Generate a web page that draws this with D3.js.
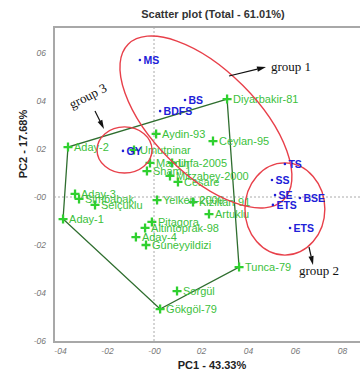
<!DOCTYPE html>
<html>
<head>
<meta charset="utf-8">
<script src="https://cdn.jsdelivr.net/npm/d3@7"></script>
<style>
  body { margin: 0; background: #fff; }
  svg { display: block; font-family: Arial, "Liberation Sans", sans-serif; }
</style>
</head>
<body>
<script>
// genotypes (green +)
const genoNames = ["Aday-2", "Diyarbakir-81", "Ceylan-95", "Aydin-93", "Umutpinar", "Mardin",
  "Urfa-2005", "Sham-1", "Mirzabey-2000", "Cesare", "Yelken-2000", "Kiziltan-91", "Artuklu",
  "Pitagora", "Altintoprak-98", "Aday-4", "Guneyyildizi", "Sorgül", "Gökgöl-79", "Tunca-79",
  "Aday-3", "Simbabak", "Selçuklu", "Aday-1"];
const genoPC1 = [-0.366, 0.311, 0.251, 0.009, -0.085, -0.017, 0.077, -0.030, 0.068, 0.102,
  0.013, 0.166, 0.234, -0.009, -0.038, -0.077, -0.034, 0.098, 0.026, 0.362,
  -0.336, -0.319, -0.251, -0.387];
const genoPC2 = [0.208, 0.408, 0.233, 0.263, 0.196, 0.142, 0.142, 0.108, 0.088, 0.063,
  -0.013, -0.021, -0.071, -0.104, -0.129, -0.167, -0.200, -0.392, -0.467, -0.292,
  0.013, -0.008, -0.033, -0.092];

// traits (blue dots)
const traitNames = ["MS", "BS", "BDFS", "GY", "TS", "SS", "SE", "BSE", "ETS", "ETS"];
const traitPC1 = [-0.060, 0.132, 0.026, -0.132, 0.557, 0.502, 0.515, 0.621, 0.506, 0.579];
const traitPC2 = [0.571, 0.404, 0.358, 0.192, 0.1375, 0.071, 0.008, -0.004, -0.033, -0.129];

const xTicks = [-0.4, -0.2, 0, 0.2, 0.4, 0.6, 0.8];
const yTicks = [-0.6, -0.4, -0.2, 0, 0.2, 0.4, 0.6];

// group ellipses in data units (center, radii, rotation in degrees)
const groupNames = ["group 1", "group 2", "group 3"];
const groupCx = [0.221, 0.557, -0.1255];
const groupCy = [0.3125, -0.05, 0.196];
const groupRx = [0.468, 0.170, 0.117];
const groupRy = [0.221, 0.192, 0.096];
const groupRot = [45, 0, 0];

const width = 360, height = 371;
const plotL = 54, plotT = 27, plotB = 342, plotR = 362;

const svg = d3.select("body").append("svg")
  .attr("width", width).attr("height", height);

const x = d3.scaleLinear().domain([-0.4, 0.8]).range([60, 342]);
const y = d3.scaleLinear().domain([-0.6, 0.6]).range([341, 53]);
const pxPerX = x(1) - x(0);
const pxPerY = y(0) - y(1);

// title
svg.append("text")
  .attr("x", 213).attr("y", 18)
  .attr("text-anchor", "middle")
  .attr("font-size", 11).attr("font-weight", "bold").attr("fill", "#333")
  .text("Scatter plot (Total - 61.01%)");

// zero lines
svg.append("line")
  .attr("x1", x(0)).attr("x2", x(0)).attr("y1", plotT).attr("y2", plotB)
  .attr("stroke", "#aaa").attr("stroke-dasharray", "2,2");
svg.append("line")
  .attr("x1", plotL).attr("x2", plotR).attr("y1", y(0)).attr("y2", y(0))
  .attr("stroke", "#aaa").attr("stroke-dasharray", "2,2");

// frame
svg.append("path")
  .attr("d", `M${plotR},${plotT}H${plotL}V${plotB}H${plotR}`)
  .attr("fill", "none").attr("stroke", "#a8a8a8").attr("stroke-width", 2);

const fmt = (v) => (v <= 0 ? "-" : "") + "0" + Math.round(Math.abs(v) * 10);

const xAxis = svg.append("g")
  .attr("transform", `translate(0,${plotB})`)
  .call(d3.axisBottom(x).tickValues(xTicks).tickFormat(fmt).tickSize(0).tickPadding(6));
const yAxis = svg.append("g")
  .attr("transform", `translate(${plotL},0)`)
  .call(d3.axisLeft(y).tickValues(yTicks).tickFormat(fmt).tickSize(0).tickPadding(8));
[xAxis, yAxis].forEach((g) => {
  g.select(".domain").remove();
  g.selectAll("text")
    .attr("font-size", 8.5).attr("font-style", "italic").attr("fill", "#777")
    .attr("font-family", "Arial, sans-serif");
});

// axis titles
svg.append("text")
  .attr("x", 212).attr("y", 369)
  .attr("text-anchor", "middle")
  .attr("font-size", 11).attr("font-weight", "bold").attr("fill", "#222")
  .text("PC1 - 43.33%");
svg.append("text")
  .attr("transform", "translate(27,144) rotate(-90)")
  .attr("text-anchor", "middle")
  .attr("font-size", 11).attr("font-weight", "bold").attr("fill", "#222")
  .text("PC2 - 17.68%");

// genotype data
const geno = genoNames.map((n, i) => ({ name: n, px: x(genoPC1[i]), py: y(genoPC2[i]) }));
const traits = traitNames.map((n, i) => ({ name: n, px: x(traitPC1[i]), py: y(traitPC2[i]) }));

// convex hull round the genotypes
const hull = d3.polygonHull(geno.map((d) => [d.px, d.py]));
svg.append("path")
  .attr("d", "M" + hull.join("L") + "Z")
  .attr("fill", "none").attr("stroke", "#2f6e2f").attr("stroke-width", 1.3);

// green crosses + labels
const g = svg.append("g");
g.selectAll("path.cross")
  .data(geno).enter().append("path")
  .attr("class", "cross")
  .attr("d", (d) => `M${d.px - 4.5},${d.py}H${d.px + 4.5}M${d.px},${d.py - 4.5}V${d.py + 4.5}`)
  .attr("stroke", "#2fd02f").attr("stroke-width", 2.3);
g.selectAll("text")
  .data(geno).enter().append("text")
  .attr("x", (d) => d.px + 6).attr("y", (d) => d.py)
  .attr("dy", "0.35em")
  .attr("font-size", 11).attr("fill", "#3cbf3c")
  .text((d) => d.name);

// group ellipses
groupNames.forEach((n, i) => {
  svg.append("ellipse")
    .attr("transform", `translate(${x(groupCx[i])},${y(groupCy[i])}) rotate(${groupRot[i]})`)
    .attr("rx", groupRx[i] * pxPerX)
    .attr("ry", groupRy[i] * (groupRot[i] ? pxPerX : pxPerY))
    .attr("fill", "none").attr("stroke", "#e8404a").attr("stroke-width", 1.4);
});

// blue traits
const t = svg.append("g");
t.selectAll("circle")
  .data(traits).enter().append("circle")
  .attr("cx", (d) => d.px).attr("cy", (d) => d.py).attr("r", 1.3)
  .attr("fill", "#2020d8");
t.selectAll("text")
  .data(traits).enter().append("text")
  .attr("x", (d) => d.px + 3.5).attr("y", (d) => d.py)
  .attr("dy", "0.35em")
  .attr("font-size", 10.5).attr("font-weight", "bold").attr("fill", "#2020d8")
  .text((d) => d.name);

// annotation arrows
function arrow(x1, y1, x2, y2) {
  const a = Math.atan2(y2 - y1, x2 - x1);
  const len = 9, w = 2.6;
  const bx = x2 - len * Math.cos(a), by = y2 - len * Math.sin(a);
  svg.append("line")
    .attr("x1", x1).attr("y1", y1).attr("x2", bx).attr("y2", by)
    .attr("stroke", "#111").attr("stroke-width", 1.2);
  svg.append("path")
    .attr("d", `M${x2},${y2}L${bx + w * Math.sin(a)},${by - w * Math.cos(a)}L${bx - w * Math.sin(a)},${by + w * Math.cos(a)}Z`)
    .attr("fill", "#111");
}
arrow(229, 76, 266, 67);
arrow(309, 247, 313, 265);
arrow(95, 111, 104, 129);

const serif = "'Liberation Serif', 'Times New Roman', serif";
svg.append("text").attr("x", 271).attr("y", 71)
  .attr("font-family", serif).attr("font-size", 13).attr("fill", "#111").text(groupNames[0]);
svg.append("text").attr("x", 299).attr("y", 275)
  .attr("font-family", serif).attr("font-size", 13).attr("fill", "#111").text(groupNames[1]);
svg.append("text").attr("transform", "translate(72,109) rotate(-27)")
  .attr("font-family", serif).attr("font-size", 13).attr("fill", "#111").text(groupNames[2]);
</script>
</body>
</html>
